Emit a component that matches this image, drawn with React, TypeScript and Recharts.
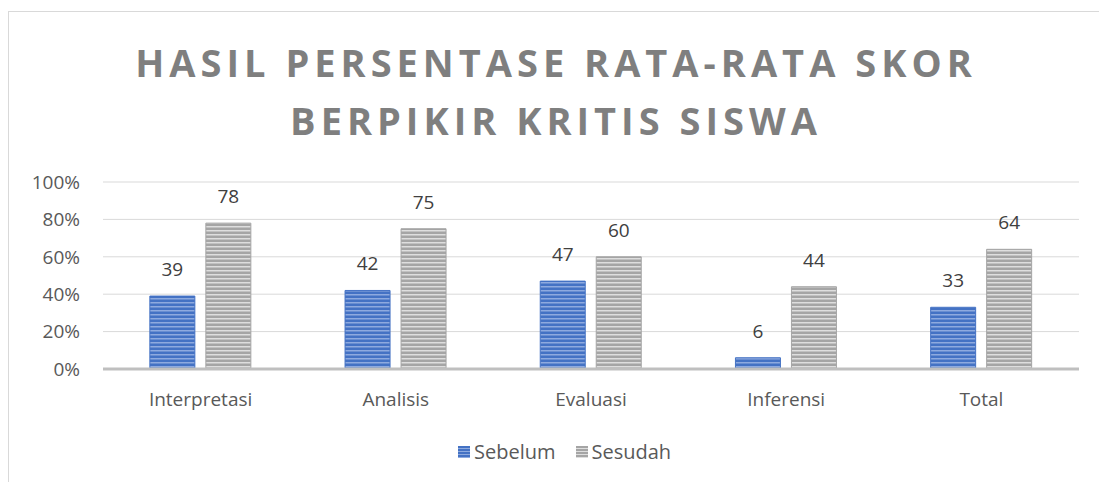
import React from 'react';
import { BarChart, Bar, XAxis, YAxis, CartesianGrid, LabelList } from 'recharts';

// --- Data ---
const categories = ['Interpretasi', 'Analisis', 'Evaluasi', 'Inferensi', 'Total'];
const sebelum = [39, 42, 47, 6, 33];
const sesudah = [78, 75, 60, 44, 64];
const yTicks = [0, 20, 40, 60, 80, 100];

const data = categories.map((name, i) => ({ name, Sebelum: sebelum[i], Sesudah: sesudah[i] }));

const FONT = '"Open Sans", sans-serif';

const legendItems = [
  { label: 'Sebelum', fill: 'url(#stripeBlueL)' },
  { label: 'Sesudah', fill: 'url(#stripeGrayL)' },
];

export default function App() {
  return (
    <div style={{ position: 'absolute', left: 0, top: 0, width: 1099, height: 482, overflow: 'hidden', background: '#fff' }}>
      {/* chart frame */}
      <div style={{ position: 'absolute', left: 8, top: 11, width: 1200, height: 600, border: '1px solid #d9d9d9' }} />

      {/* Title */}
      <div
        style={{
          position: 'absolute', left: 0, top: 33, width: 1112, textAlign: 'center',
          fontFamily: FONT, fontWeight: 700, fontSize: 38, lineHeight: '58px',
          letterSpacing: 5, color: '#7f7f7f',
        }}
      >
        HASIL PERSENTASE RATA-RATA SKOR<br />BERPIKIR KRITIS SISWA
      </div>

      <div style={{ position: 'absolute', left: 0, top: 0 }}>
        <BarChart
          width={1099}
          height={482}
          data={data}
          margin={{ top: 182, right: 20, bottom: 83, left: 0 }}
          barCategoryGap="24%"
          barGap={11}
        >
          <defs>
            <pattern id="stripeBlue" width={4} height={4} patternUnits="userSpaceOnUse">
              <rect width={4} height={4} fill="#4472c4" />
              <rect y={2} width={4} height={1.5} fill="#8eaadf" />
            </pattern>
            <pattern id="stripeGray" width={4} height={4} patternUnits="userSpaceOnUse">
              <rect width={4} height={4} fill="#a5a5a5" />
              <rect y={2} width={4} height={1.5} fill="#dedede" />
            </pattern>
          </defs>
          <CartesianGrid vertical={false} stroke="#d9d9d9" strokeWidth={1} />
          <XAxis
            dataKey="name"
            interval={0}
            height={30}
            axisLine={{ stroke: '#bfbfbf', strokeWidth: 3 }}
            tickLine={false}
            tickMargin={18}
            tick={{ fontFamily: FONT, fontSize: 19, fill: '#595959' }}
          />
          <YAxis
            width={103}
            domain={[0, 100]}
            ticks={yTicks}
            interval={0}
            axisLine={false}
            tickLine={false}
            tickMargin={17}
            tickFormatter={(v) => `${v}%`}
            tick={{ fontFamily: FONT, fontSize: 19, fill: '#595959' }}
          />
          <Bar dataKey="Sebelum" fill="url(#stripeBlue)" stroke="#4472c4" strokeWidth={1} isAnimationActive={false}>
            <LabelList dataKey="Sebelum" position="top" offset={20} style={{ fontFamily: FONT, fontSize: 19, fill: '#404040' }} />
          </Bar>
          <Bar dataKey="Sesudah" fill="url(#stripeGray)" stroke="#a5a5a5" strokeWidth={1} isAnimationActive={false}>
            <LabelList dataKey="Sesudah" position="top" offset={20} style={{ fontFamily: FONT, fontSize: 19, fill: '#404040' }} />
          </Bar>
        </BarChart>
      </div>

      {/* Legend */}
      <div
        style={{
          position: 'absolute', left: 458, top: 438, display: 'flex', gap: 20,
          fontFamily: FONT, fontSize: 20, color: '#595959', lineHeight: '28px',
        }}
      >
        {legendItems.map((it) => (
          <div key={it.label} style={{ display: 'flex', alignItems: 'center', gap: 4 }}>
            <svg width={12} height={12}>
              <defs>
                <pattern id="stripeBlueL" width={3} height={3} patternUnits="userSpaceOnUse">
                  <rect width={3} height={3} fill="#4472c4" />
                  <rect y={2} width={3} height={1} fill="#8eaadf" />
                </pattern>
                <pattern id="stripeGrayL" width={3} height={3} patternUnits="userSpaceOnUse">
                  <rect width={3} height={3} fill="#a5a5a5" />
                  <rect y={2} width={3} height={1} fill="#dedede" />
                </pattern>
              </defs>
              <rect width={12} height={12} fill={it.fill} />
            </svg>
            <span>{it.label}</span>
          </div>
        ))}
      </div>
    </div>
  );
}
